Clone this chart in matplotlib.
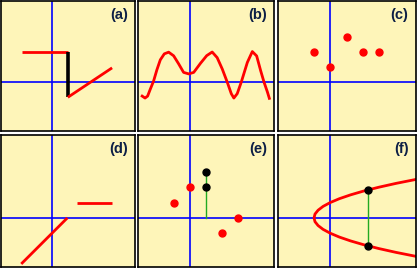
import matplotlib
matplotlib.use("Agg")
import matplotlib.pyplot as plt

# ---- data (units: grid squares) ----
# (a) step function with a jump
a_left_x = [-1.92, 1.0]
a_left_y = [2.0, 2.0]
a_jump_x = [1.0, 1.0]
a_jump_y = [2.0, -1.0]
a_right_x = [1.0, 3.8]
a_right_y = [-1.0, 0.95]

# (b) wavy curve
b_x = [-2.96, -2.78, -2.62, -2.46, -2.25, -2.04, -1.83, -1.58, -1.31, -1.0,
       -0.69, -0.38, -0.06, 0.25, 0.67, 1.06, 1.4, 1.71, 2.03, 2.34,
       2.59, 2.75, 2.96, 3.21, 3.59, 3.9, 4.17, 4.42, 4.63, 4.84, 4.96]
b_y = [-0.92, -1.05, -0.92, -0.48, 0.07, 0.83, 1.48, 1.88, 1.99, 1.75,
       1.22, 0.65, 0.55, 0.65, 1.25, 1.76, 2.0, 1.63, 0.87, 0.0,
       -0.76, -1.05, -0.76, 0.0, 1.31, 2.03, 1.74, 0.76, 0.0, -0.65, -1.07]

# (c) scattered points
c_x = [-1, 0, 1, 2, 3]
c_y = [2, 1, 3, 2, 2]

# (d) two pieces
d_diag_x = [-1.95, 0.97]
d_diag_y = [-3.0, 0.0]
d_flat_x = [1.55, 3.8]
d_flat_y = [1.0, 1.0]

# (e) points, two sharing the same x
e_red_x = [-1, 0, 3, 2]
e_red_y = [1, 2, 0, -1]
e_black_x = [1, 1]
e_black_y = [3, 2]

# (f) sideways parabola and a vertical line through two of its points
f_y = [-2.5, -2.25, -2.0, -1.75, -1.5, -1.25, -1.0, -0.75, -0.5, -0.25, 0.0,
       0.25, 0.5, 0.75, 1.0, 1.25, 1.5, 1.75, 2.0, 2.25, 2.5]
f_x = [5.25, 4.06, 3.0, 2.06, 1.25, 0.56, 0.0, -0.44, -0.75, -0.94, -1.0,
       -0.94, -0.75, -0.44, 0.0, 0.56, 1.25, 2.06, 3.0, 4.06, 5.25]
f_pts_x = [2.33, 2.33]
f_pts_y = [1.83, -1.83]

labels = ["(a)", "(b)", "(c)", "(d)", "(e)", "(f)"]

BG = "#fef5b9"
RED = "#ff0000"
BLUE = "#0000ff"
GREEN = "#22aa22"
LABEL = "#0d1f45"

W, H = 417, 272
fig = plt.figure(figsize=(W / 100, H / 100), dpi=100, facecolor="white")

# panel boxes in pixels
col_left = [0.7, 137.5, 277.5]
col_w = [134.3, 136.5, 138.0]
row_top = [0.7, 135.0]
row_h = [129.8, 132.0]

axes = []
for r in range(2):
    for c in range(3):
        pw, ph = col_w[c], row_h[r]
        ax = fig.add_axes([col_left[c] / W, 1 - (row_top[r] + ph) / H, pw / W, ph / H])
        ax.set_facecolor(BG)
        ax.set_xlim(-3.25, 5.25)
        ax.set_ylim(-3.2, 5.4)
        ax.set_xticks([])
        ax.set_yticks([])
        for s in ax.spines.values():
            s.set_linewidth(1.2)
            s.set_color("black")
        ax.axhline(0, color=BLUE, lw=1.2, zorder=1)
        ax.axvline(0, color=BLUE, lw=1.2, zorder=1)
        ax.text(1 - 7 / pw, 1 - 7 / ph, labels[len(axes)], transform=ax.transAxes,
                ha="right", va="top", fontsize=10.5, fontweight="bold",
                family="Liberation Sans", color=LABEL)
        axes.append(ax)

ax_a, ax_b, ax_c, ax_d, ax_e, ax_f = axes

ax_a.plot(a_left_x, a_left_y, color=RED, lw=2, solid_capstyle="butt")
ax_a.plot(a_jump_x, a_jump_y, color="black", lw=2.6, solid_capstyle="butt")
ax_a.plot(a_right_x, a_right_y, color=RED, lw=2, solid_capstyle="butt")

ax_b.plot(b_x, b_y, color=RED, lw=2)

ax_c.plot(c_x, c_y, "o", color=RED, ms=5)

ax_d.plot(d_diag_x, d_diag_y, color=RED, lw=2, solid_capstyle="butt")
ax_d.plot(d_flat_x, d_flat_y, color=RED, lw=2, solid_capstyle="butt")

ax_e.plot([e_black_x[0], e_black_x[0]], [0, max(e_black_y)], color=GREEN, lw=1)
ax_e.plot(e_red_x, e_red_y, "o", color=RED, ms=5)
ax_e.plot(e_black_x, e_black_y, "o", color="black", ms=5)

ax_f.plot(f_x, f_y, color=RED, lw=2)
ax_f.plot(f_pts_x, f_pts_y, color=GREEN, lw=1)
ax_f.plot(f_pts_x, f_pts_y, "o", color="black", ms=5)

fig.savefig("out.png", dpi=100, facecolor="white")
